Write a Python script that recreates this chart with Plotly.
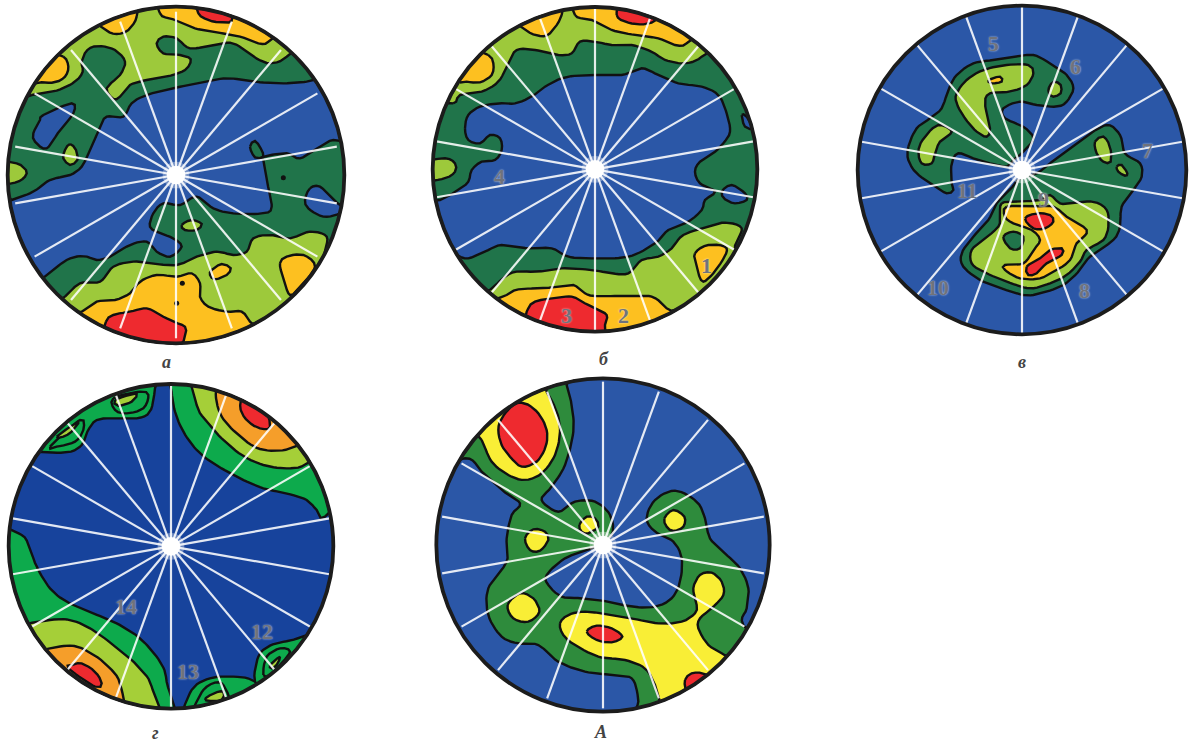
import numpy as np
import plotly.graph_objects as go

# ---- panel frames (figure pixels), disc centre and radius in survey units ----
SPOKE_BEARINGS = [0, 20, 40, 60, 80, 100, 120, 140, 160, 180, 200, 220, 240, 260, 280, 300, 320, 340]

BLUE = "#2b57a7"; DKBLUE = "#17439c"; DKGREEN = "#20744a"; LTGREEN = "#9dc93b"; ORANGE = "#fdc020"
RED = "#ee2a2f"; GGREEN = "#0daa4c"; GLIME = "#a5cf38"; GORANGE = "#f59e2a"; AGREEN = "#2e8b3c"; YELLOW = "#f9ee36"

# ---- panel a ----
A1_BLUE = [(10,600),(35,600),(100,575),(150,540),(210,525),(245,500),(270,450),(300,380),(320,350),(370,350),(395,310),(440,285),(520,265),(590,250),(680,235),(760,245),(850,250),(920,245),(950,235),(1000,200),(1080,350),(1060,425),(1000,420),(960,440),(900,475),(860,460),(790,470),(790,480),(800,540),(815,620),(790,640),(700,640),(640,625),(590,590),(540,615),(490,610),(460,640),(450,680),(480,700),(520,715),(545,740),(510,770),(470,755),(440,725),(390,735),(330,770),(290,780),(250,768),(200,780),(140,825),(90,850),(20,720)]
A1_HOLE1 = [(130,345),(215,310),(220,340),(180,390),(140,445),(105,425),(100,400),(120,360)]
A1_HOLE2 = [(930,565),(960,560),(1000,600),(1025,620),(1020,640),(970,650),(925,625),(915,600)]
A1_FINGER = [(750,440),(765,423),(782,445),(790,470),(765,472)]
A1_LG1 = [(210,432),(228,450),(232,480),(210,495),(190,475),(195,450)]
A1_LG2 = [(-5,490),(50,490),(78,510),(75,530),(45,548),(-5,548)]
A1_LG3 = [(545,675),(575,660),(605,672),(590,690),(555,690)]
A1_TOP = [(95,285),(170,272),(225,245),(248,215),(245,185),(262,150),(295,138),(345,150),(375,185),(360,225),(320,265),(340,297),(360,290),(390,255),(440,240),(500,230),(555,210),(572,178),(540,165),(490,160),(470,130),(490,110),(530,115),(570,145),(640,135),(700,130),(760,170),(810,190),(860,170),(900,100),(700,-60),(400,-60),(150,80),(20,200),(40,300)]
A1_OR1 = [(190,170),(205,200),(195,230),(165,247),(125,247),(90,245),(140,170)]
A1_OR2 = [(410,50),(385,90),(350,102),(318,90),(290,50),(400,0)]
A1_OR3 = [(480,40),(520,58),(585,85),(650,97),(720,110),(775,130),(805,125),(830,70),(650,-40),(480,-40)]
A1_RD1 = [(595,40),(625,60),(660,67),(695,62),(690,10),(600,0)]
A1_BOT = [(195,890),(240,850),(300,845),(340,800),(400,785),(450,790),(530,795),(590,770),(650,755),(700,765),(740,755),(760,715),(810,705),(870,715),(930,695),(980,710),(975,760),(990,790),(1050,900),(800,1120),(400,1120),(100,1020),(150,920)]
A1_OR4 = [(245,935),(290,905),(345,900),(390,880),(420,845),(470,825),(530,830),(575,820),(600,850),(600,890),(625,920),(680,935),(725,935),(750,965),(790,1020),(600,1100),(300,1080),(200,960)]
A1_OR5 = [(840,790),(860,770),(910,765),(945,800),(900,860),(870,885),(850,835)]
A1_OR6 = [(635,810),(665,792),(692,805),(680,825),(645,838),(630,825)]
A1_RD2 = [(318,965),(340,945),(390,935),(440,925),(480,945),(520,965),(555,980),(555,1005),(535,1040),(440,1060),(320,1020)]
A1_DOTS_X = [850, 547, 530]
A1_DOTS_Y = [533, 850, 910]

# ---- panel b ----
B_BLUE = [(120,385),(130,345),(165,320),(220,310),(270,310),(320,290),(360,260),(420,232),(500,225),(590,225),(650,205),(700,225),(760,250),(830,260),(880,285),(905,340),(915,395),(895,430),(870,455),(825,485),(810,515),(825,550),(870,575),(840,600),(830,630),(790,665),(730,690),(690,730),(610,770),(500,775),(430,770),(380,745),(310,745),(230,735),(180,755),(130,775),(95,770),(40,780),(-20,620),(10,600),(45,600),(100,570),(130,545),(140,510),(170,485),(210,480),(230,450),(225,415),(195,405),(165,430),(130,420)]
B_HOLE1 = [(890,575),(920,555),(960,580),(965,600),(930,610),(900,598)]
B_HOLE2 = [(950,345),(965,350),(985,385),(960,380)]
B_TOP = [(85,310),(105,285),(170,275),(220,245),(250,190),(275,150),(330,150),(400,165),(440,160),(465,125),(510,125),(560,135),(620,135),(680,155),(720,180),(780,190),(830,170),(860,110),(650,-60),(350,-60),(120,100),(20,280)]
B_OR1 = [(190,165),(205,190),(200,225),(165,247),(125,245),(100,240),(140,160)]
B_OR2 = [(410,45),(375,100),(345,108),(305,92),(280,50),(400,-10)]
B_OR3 = [(450,45),(500,60),(560,90),(630,105),(700,115),(750,135),(785,130),(810,70),(600,-40),(450,-30)]
B_RD1 = [(575,45),(610,68),(665,72),(690,50),(600,-10)]
B_LG1 = [(-5,490),(60,475),(90,490),(90,515),(60,535),(-5,540)]
B_BOT = [(195,870),(240,830),(275,815),(340,815),(410,805),(500,810),(560,820),(610,820),(650,780),(700,770),(740,745),(775,705),(850,680),(900,668),(950,685),(930,745),(980,770),(850,1000),(500,1070),(200,950),(150,890)]
B_OR4 = [(810,760),(850,735),(905,745),(880,800),(835,845),(815,800)]
B_OR5 = [(245,885),(280,868),(350,865),(400,860),(445,855),(480,880),(510,888),(600,888),(680,890),(725,925),(760,960),(600,1060),(300,1020),(200,920)]
B_RD2 = [(310,925),(330,905),(380,895),(440,890),(470,905),(510,925),(545,945),(540,975),(530,1030),(400,1020),(310,960)]

# ---- panel v ----
V_DG1 = [(175,440),(200,385),(240,355),(275,325),(295,270),(320,225),(370,190),(430,180),(500,170),(550,165),(600,190),(650,225),(670,265),(650,305),(620,320),(560,315),(510,305),(460,325),(465,355),(520,380),(550,415),(520,455),(490,480),(470,500),(420,490),(370,475),(325,460),(305,490),(305,550),(310,570),(290,580),(250,555),(200,520),(175,480)]
V_DG2 = [(600,490),(640,460),(700,415),(770,375),(810,405),(825,460),(870,490),(875,530),(850,570),(815,620),(810,680),(790,720),(720,770),(690,810),(640,855),(570,880),(520,885),(440,860),(390,840),(340,800),(335,760),(370,710),(415,660),(440,610),(480,570),(510,535),(560,520)]
V_LG1 = [(320,280),(350,240),(400,210),(470,195),(535,195),(550,220),(530,255),(480,275),(420,280),(405,310),(420,385),(410,410),(380,395),(345,355),(320,310)]
V_OR1 = [(415,240),(450,230),(455,245),(425,250)]
V_LG2 = [(597,262),(612,245),(632,255),(632,280),(610,290),(597,280)]
V_LG3 = [(205,450),(225,410),(265,375),(305,395),(270,425),(255,460),(245,490),(215,490)]
V_LG4 = [(735,425),(760,410),(780,440),(782,485),(760,485),(740,460)]
V_LG5 = [(800,500),(815,495),(832,520),(825,527),(805,515)]
V_LG6 = [(455,610),(450,650),(445,680),(400,720),(365,750),(365,790),(400,815),(470,845),(540,865),(600,850),(650,825),(690,785),(710,750),(760,720),(775,680),(770,630),(730,605),(670,610),(630,610),(600,585),(570,600),(500,605)]
V_OR2 = [(470,620),(550,620),(610,620),(650,650),(700,680),(710,700),(680,730),(660,780),(620,810),(570,835),(510,835),(465,810),(465,795),(520,790),(550,750),(570,720),(545,690),(490,670),(465,650)]
V_DG3 = [(460,710),(490,695),(520,710),(510,745),(480,745)]
V_RD1 = [(525,655),(560,640),(600,645),(610,665),(585,685),(550,685)]
V_RD2 = [(530,800),(570,775),(600,750),(635,745),(635,765),(590,790),(560,820),(535,825)]

# ---- panel g ----
G_G1 = [(515,-30),(515,50),(525,110),(550,170),(590,225),(640,265),(720,310),(790,340),(860,355),(920,375),(950,405),(975,425),(1060,300),(900,100),(700,-40)]
G_L1 = [(585,-10),(590,90),(620,140),(665,190),(725,240),(790,270),(860,280),(915,268),(960,200),(750,-10)]
G_O1 = [(650,40),(660,115),(710,175),(780,222),(865,222),(890,180),(700,20)]
G_R1 = [(722,105),(745,140),(780,160),(810,155),(790,90),(730,70)]
G_G2 = [(100,225),(200,232),(245,210),(262,170),(290,135),(345,130),(410,130),(450,110),(465,40),(465,-10),(300,10),(80,180)]
G_G2B = [(340,70),(420,50),(445,60),(430,100),(380,115),(345,105)]
G_G2C = [(150,215),(240,135),(250,165),(225,200),(170,215)]
G_L2 = [(345,75),(410,55),(395,80),(355,92)]
G_L3 = [(170,185),(235,140),(215,170),(190,185)]
G_G3 = [(0,480),(65,480),(90,520),(110,575),(150,640),(200,680),(280,715),(350,745),(420,790),(480,860),(500,920),(503,1050),(200,1020),(-20,700)]
G_L4 = [(60,755),(150,735),(210,735),(270,760),(340,810),(410,870),(455,935),(455,1050),(100,950),(50,800)]
G_O2 = [(120,830),(210,812),(265,830),(320,870),(360,925),(365,1030),(250,1020),(100,870)]
G_R2 = [(215,870),(245,865),(285,890),(305,925),(285,935),(205,880)]
G_G4 = [(545,1040),(575,945),(630,910),(700,905),(755,915),(790,960),(600,1060)]
G_G4B = [(580,1030),(610,945),(665,925),(685,1000)]
G_L5 = [(615,975),(640,955),(670,950),(665,975)]
G_G5 = [(765,920),(775,845),(810,812),(870,797),(930,790),(880,900),(810,930)]
G_G5B = [(790,900),(800,845),(840,820),(870,830),(840,870),(810,900)]
G_L6 = [(810,870),(840,845),(830,870),(815,880)]

# ---- panel A ----
C_GR = [(-20,300),(120,250),(170,290),(230,345),(285,385),(260,420),(245,490),(245,560),(190,640),(190,720),(230,785),(280,805),(340,810),(400,860),(480,890),(560,900),(620,910),(640,970),(650,1050),(900,1050),(1050,850),(955,750),(965,700),(970,640),(945,580),(900,535),(855,490),(840,430),(815,380),(750,347),(690,375),(665,430),(690,470),(745,500),(770,550),(765,620),(740,670),(690,695),(620,695),(550,680),(470,670),(410,665),(370,630),(365,600),(420,550),(500,520),(560,480),(555,420),(510,380),(450,380),(400,410),(350,375),(380,335),(420,270),(445,170),(440,90),(425,30),(420,-20),(100,100)]
C_Y1 = [(405,745),(430,720),(480,710),(560,720),(620,730),(700,745),(770,740),(810,715),(815,690),(805,640),(825,600),(860,593),(890,620),(895,660),(860,700),(825,730),(820,760),(850,810),(890,835),(960,900),(750,1050),(700,965),(690,930),(660,880),(600,855),(520,845),(450,810),(415,780)]
C_Y2 = [(170,195),(200,260),(250,300),(300,315),(350,295),(390,240),(405,170),(395,110),(365,50),(330,-10),(130,130)]
C_R1 = [(220,165),(230,130),(265,90),(300,85),(340,115),(365,165),(362,215),(335,260),(290,275),(255,245),(230,210)]
C_Y3 = [(463,450),(485,425),(510,430),(520,455),(490,475),(470,470)]
C_Y4 = [(300,490),(325,463),(360,470),(370,495),(345,527),(315,525)]
C_Y5 = [(718,430),(745,405),(778,425),(775,455),(745,468),(725,455)]
C_Y6 = [(248,690),(285,655),(325,670),(343,710),(310,740),(265,730)]
C_R2 = [(485,770),(515,752),(560,760),(592,785),(560,802),(515,795)]
C_R3 = [(780,915),(800,895),(835,895),(860,915),(790,945)]

PANELS = [
    dict(box=(0,0,350,375), c=(528,525), R=505, base=DKGREEN, reach=0.97, title=("а",498,1085),
         layers=[(BLUE,A1_BLUE),(BLUE,A1_HOLE1),(BLUE,A1_HOLE2),(DKGREEN,A1_FINGER),(LTGREEN,A1_LG1),(LTGREEN,A1_LG2),(LTGREEN,A1_LG3),
                 (LTGREEN,A1_TOP),(ORANGE,A1_OR1),(ORANGE,A1_OR2),(ORANGE,A1_OR3),(RED,A1_RD1),(LTGREEN,A1_BOT),(ORANGE,A1_OR4),(ORANGE,A1_OR5),(ORANGE,A1_OR6),(RED,A1_RD2)],
         dots=(A1_DOTS_X,A1_DOTS_Y), labels=[]),
    dict(box=(425,0,340,375), c=(510,508), R=487, base=DKGREEN, reach=1.0, title=("б",537,1078),
         layers=[(BLUE,B_BLUE),(BLUE,B_HOLE1),(BLUE,B_HOLE2),(LTGREEN,B_TOP),(ORANGE,B_OR1),(ORANGE,B_OR2),(ORANGE,B_OR3),(RED,B_RD1),(LTGREEN,B_LG1),
                 (LTGREEN,B_BOT),(ORANGE,B_OR4),(ORANGE,B_OR5),(RED,B_RD2)],
         dots=None, labels=[("4",222,530),("1",845,795),("3",425,945),("2",595,945)]),
    dict(box=(850,0,344,375), c=(516,510), R=493, base=BLUE, reach=1.0, title=("в",515,1085),
         layers=[(DKGREEN,V_DG1),(DKGREEN,V_DG2),(LTGREEN,V_LG1),(ORANGE,V_OR1),(LTGREEN,V_LG2),(LTGREEN,V_LG3),(LTGREEN,V_LG4),(LTGREEN,V_LG5),(LTGREEN,V_LG6),
                 (ORANGE,V_OR2),(DKGREEN,V_DG3),(RED,V_RD1),(RED,V_RD2)],
         dots=None, labels=[("5",430,130),("6",675,200),("7",893,452),("8",703,870),("9",580,597),("10",265,862),("11",352,572)]),
    dict(box=(0,375,340,370), c=(513,514), R=487, base=DKBLUE, reach=1.0, title=("г",465,1075),
         layers=[(GGREEN,G_G1),(GLIME,G_L1),(GORANGE,G_O1),(RED,G_R1),(GGREEN,G_G2),(GGREEN,G_G2B),(GGREEN,G_G2C),(GLIME,G_L2),(GLIME,G_L3),
                 (GGREEN,G_G3),(GLIME,G_L4),(GORANGE,G_O2),(RED,G_R2),(GGREEN,G_G4),(GGREEN,G_G4B),(GLIME,G_L5),(GGREEN,G_G5),(GGREEN,G_G5B),(GLIME,G_L6)],
         dots=None, labels=[("14",378,695),("12",787,768),("13",563,888)]),
    dict(box=(425,375,350,370), c=(534,510), R=500, base=BLUE, reach=0.98, title=("А",525,1072),
         layers=[(AGREEN,C_GR),(YELLOW,C_Y1),(YELLOW,C_Y2),(RED,C_R1),(YELLOW,C_Y3),(YELLOW,C_Y4),(YELLOW,C_Y5),(YELLOW,C_Y6),(RED,C_R2),(RED,C_R3)],
         dots=None, labels=[]),
]

FIG_W, FIG_H = 1194, 745


def outline(points, cx, cy, R):
    """Pass a closed smooth curve through the hand-read contour points, then keep it inside the disc."""
    p = np.array(points, dtype=float)
    p0, p1, p2, p3 = np.roll(p, 1, axis=0), p, np.roll(p, -1, axis=0), np.roll(p, -2, axis=0)
    out = []
    for a, b, c, d in zip(p0, p1, p2, p3):
        n = max(2, int(np.hypot(*(c - b)) / 10))
        for t in np.arange(n) / n:
            out.append(0.5 * (2 * b + (c - a) * t + (2 * a - 5 * b + 4 * c - d) * t ** 2 + (3 * b - a - 3 * c + d) * t ** 3))
    out.append(out[0])
    p = np.array(out)
    e = p - [cx, cy]
    r = np.hypot(e[:, 0], e[:, 1])
    k = np.minimum(1.0, R / np.maximum(r, 1e-6))
    return cx + e[:, 0] * k, cy + e[:, 1] * k


fig = go.Figure()
layout = dict(width=FIG_W, height=FIG_H, margin=dict(l=0, r=0, t=0, b=0), autosize=False,
              paper_bgcolor="white", plot_bgcolor="white", showlegend=False)
shapes, annotations = [], []

for i, P in enumerate(PANELS):
    n = "" if i == 0 else str(i + 1)
    xa, ya = "x" + n, "y" + n
    bx, by, bw, bh = P["box"]
    layout["xaxis" + n] = dict(domain=[bx / FIG_W, (bx + bw) / FIG_W], range=[0, bw * 3], visible=False, fixedrange=True, anchor=ya)
    layout["yaxis" + n] = dict(domain=[1 - (by + bh) / FIG_H, 1 - by / FIG_H], range=[bh * 3, 0], visible=False, fixedrange=True, anchor=xa)
    cx, cy = P["c"]; R = P["R"]
    shapes.append(dict(type="circle", xref=xa, yref=ya, x0=cx - R, x1=cx + R, y0=cy - R, y1=cy + R,
                       fillcolor=P["base"], line=dict(width=0), layer="below"))
    for colour, pts in P["layers"]:
        x, y = outline(pts, cx, cy, R)
        fig.add_trace(go.Scatter(x=x, y=y, xaxis=xa, yaxis=ya, mode="lines", fill="toself", fillcolor=colour,
                                 line=dict(color="#111111", width=2.4), hoverinfo="skip"))
    if P["dots"]:
        fig.add_trace(go.Scatter(x=P["dots"][0], y=P["dots"][1], xaxis=xa, yaxis=ya, mode="markers",
                                 marker=dict(color="#111111", size=5), hoverinfo="skip"))
    for b in SPOKE_BEARINGS:
        t = np.radians(b)
        fig.add_trace(go.Scatter(x=[cx, cx + np.sin(t) * R * P["reach"]], y=[cy, cy - np.cos(t) * R * P["reach"]],
                                 xaxis=xa, yaxis=ya, mode="lines", line=dict(color="rgba(255,255,255,0.88)", width=2.2), hoverinfo="skip"))
    shapes.append(dict(type="circle", xref=xa, yref=ya, x0=cx - 40, x1=cx + 40, y0=cy - 40, y1=cy + 40,
                       fillcolor="rgba(255,255,255,0.35)", line=dict(width=0), layer="above"))
    shapes.append(dict(type="circle", xref=xa, yref=ya, x0=cx - 28, x1=cx + 28, y0=cy - 28, y1=cy + 28,
                       fillcolor="white", line=dict(width=0), layer="above"))
    shapes.append(dict(type="circle", xref=xa, yref=ya, x0=cx - R, x1=cx + R, y0=cy - R, y1=cy + R,
                       fillcolor="rgba(0,0,0,0)", line=dict(color="#1c1c1c", width=3.8), layer="above"))
    for txt, lx, ly in P["labels"]:
        annotations.append(dict(text=txt, x=lx, y=ly, xref=xa, yref=ya, showarrow=False,
                                font=dict(family="Liberation Serif", size=22, color="#6f737c", weight="bold",
                                          shadow="0 0 2px rgba(255,255,255,0.8)")))
    txt, lx, ly = P["title"]
    annotations.append(dict(text="<b><i>%s</i></b>" % txt, x=lx, y=ly, xref=xa, yref=ya, showarrow=False,
                            font=dict(family="Liberation Serif", size=18, color="#444444")))

layout["shapes"] = shapes
layout["annotations"] = annotations
fig.update_layout(**layout)
fig.write_html("out.html", config=dict(displayModeBar=False),
               post_script="document.body.style.margin='0';document.documentElement.style.overflow='hidden';")
